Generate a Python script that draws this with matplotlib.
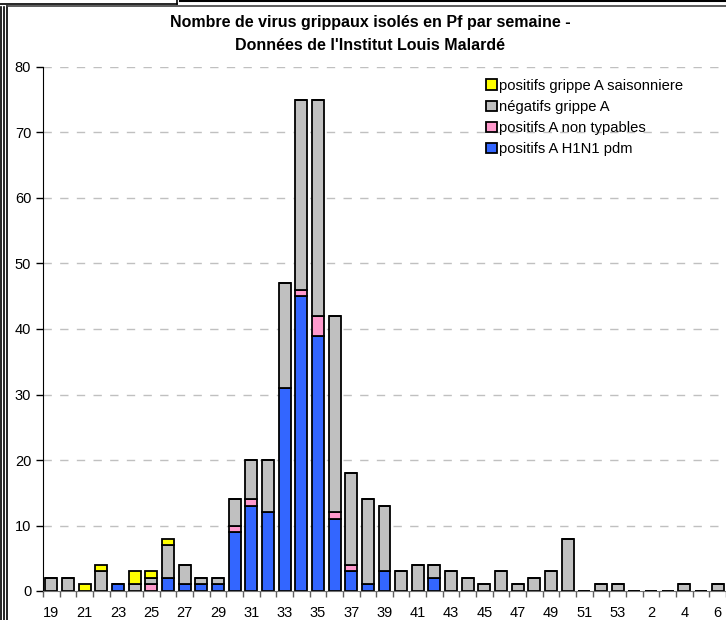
import matplotlib.pyplot as plt
import numpy as np

plt.rcParams["font.family"] = ["Liberation Sans", "DejaVu Sans"]

weeks = list(range(19, 54)) + list(range(1, 7))
h1n1 = [0, 0, 0, 0, 1, 0, 0, 2, 1, 1, 1, 9, 13, 12, 31, 45, 39, 11, 3, 1, 3,
        0, 0, 2, 0, 0, 0, 0, 0, 0, 0, 0, 0, 0, 0, 0, 0, 0, 0, 0, 0]
non_typ = [0, 0, 0, 0, 0, 0, 1, 0, 0, 0, 0, 1, 1, 0, 0, 1, 3, 1, 1, 0, 0,
           0, 0, 0, 0, 0, 0, 0, 0, 0, 0, 0, 0, 0, 0, 0, 0, 0, 0, 0, 0]
negatifs = [2, 2, 0, 3, 0, 1, 1, 5, 3, 1, 1, 4, 6, 8, 16, 29, 33, 30, 14, 13, 10,
            3, 4, 2, 3, 2, 1, 3, 1, 2, 3, 8, 0, 1, 1, 0, 0, 0, 1, 0, 1]
saison = [0, 0, 1, 1, 0, 2, 1, 1, 0, 0, 0, 0, 0, 0, 0, 0, 0, 0, 0, 0, 0,
          0, 0, 0, 0, 0, 0, 0, 0, 0, 0, 0, 0, 0, 0, 0, 0, 0, 0, 0, 0]

series = [
    (h1n1, "#3366FF", "positifs A H1N1 pdm"),
    (non_typ, "#FF99CC", "positifs A non typables"),
    (negatifs, "#C0C0C0", "négatifs grippe A"),
    (saison, "#FFFF00", "positifs grippe A saisonniere"),
]

fig = plt.figure(figsize=(7.26, 6.2), dpi=100)
W, H = 726, 620
ax = fig.add_axes([43 / W, 1 - 591 / H, (726 - 43) / W, (591 - 67) / H])

x = np.arange(len(weeks))
bottom = np.zeros(len(weeks))
handles = []
for vals, color, label in series:
    vals = np.array(vals)
    b = ax.bar(x, vals, bottom=bottom, width=0.72, color=color,
               edgecolor="black", linewidth=1.3, label=label)
    handles.append(b)
    bottom += vals

ax.set_xlim(-0.5, len(weeks) - 0.5)
ax.set_ylim(0, 80)
ax.set_yticks(range(0, 81, 10))
ax.yaxis.grid(True, color="#C0C0C0", linestyle=(0, (6, 6)), linewidth=1)
ax.set_axisbelow(True)

ax.set_xticks(x[::2])
ax.set_xticklabels([str(w) for w in weeks[::2]])
ax.set_xticks(np.arange(-0.5, len(weeks), 1), minor=True)
ax.tick_params(axis="x", which="major", length=0, pad=11, labelsize=10.5)
ax.tick_params(axis="x", which="minor", length=4, width=1, color="#606060")
ax.tick_params(axis="y", length=5, width=1, labelsize=10.5)

for s in ["top", "right"]:
    ax.spines[s].set_visible(False)
ax.spines["left"].set_color("black")
ax.spines["bottom"].set_color("#707070")

ax.legend(handles[::-1], [s[2] for s in series][::-1], loc="upper left",
          bbox_to_anchor=((486 - 43) / 683, 1 - 12 / 524), frameon=False,
          fontsize=10.6, handlelength=0.75, handleheight=0.75,
          handletextpad=0.12, labelspacing=0.48, borderpad=0, borderaxespad=0)

fig.text(370 / W, 1 - 23 / H, "Nombre de virus grippaux isolés en Pf par semaine -",
         ha="center", va="center", fontsize=11.5, fontweight="bold")
fig.text(370 / W, 1 - 45 / H, "Données de l'Institut Louis Malardé",
         ha="center", va="center", fontsize=11.5, fontweight="bold")

# chart frame remnants
def line(x0, y0, x1, y1, lw=1.2, color="black"):
    fig.add_artist(plt.Line2D([x0 / W, x1 / W], [1 - y0 / H, 1 - y1 / H],
                              color=color, linewidth=lw))

line(1, 7, 1, H)
line(3.5, 7, 3.5, H)
line(7, 6, 7, H)
line(7, 5.5, W, 5.5, color="#404040")
line(180, 1, W, 1, lw=1.5)
line(0, 3.5, 177, 3.5)
line(177, 0, 177, 4)

fig.savefig("out.png", dpi=100)
